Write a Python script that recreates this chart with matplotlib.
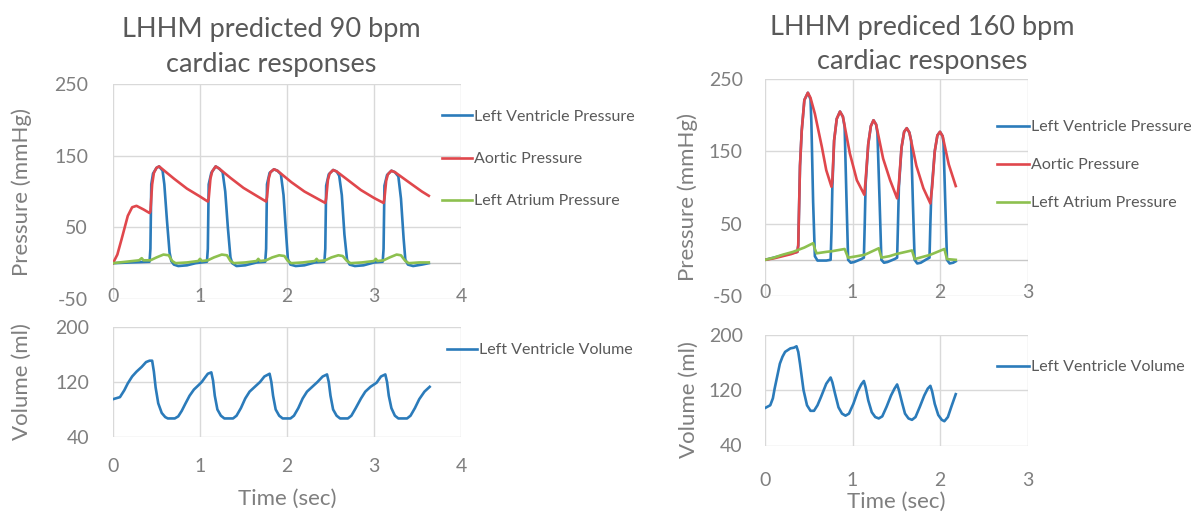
import numpy as np
import matplotlib
matplotlib.use('Agg')
import matplotlib.pyplot as plt

plt.rcParams['font.family'] = ['Lato', 'DejaVu Sans']
plt.rcParams['axes.unicode_minus'] = False

# ---------------- data ----------------
# 90 bpm : pressures (mmHg) vs time (s)
t_ao90 = [0, 0.05, 0.10, 0.17, 0.22, 0.27, 0.35, 0.42, 0.43, 0.45, 0.47, 0.50, 0.53, 0.58, 0.70, 0.85, 1.00, 1.09,
          1.10, 1.12, 1.14, 1.18, 1.22, 1.35, 1.50, 1.65, 1.76, 1.77, 1.79, 1.81, 1.85, 1.89, 2.05, 2.20, 2.35, 2.44,
          2.45, 2.47, 2.49, 2.53, 2.57, 2.70, 2.85, 3.00, 3.11, 3.12, 3.14, 3.16, 3.20, 3.24, 3.40, 3.55, 3.63]
p_ao90 = [0, 12, 34, 66, 78, 80, 75, 70, 72, 110, 126, 133, 135, 130, 118, 104, 93, 86,
          90, 118, 128, 135, 132, 119, 105, 94, 86, 92, 118, 127, 131, 129, 113, 100, 90, 84,
          90, 116, 125, 130, 128, 116, 102, 91, 84, 90, 115, 124, 129, 127, 113, 100, 94]

t_lv90 = [0, 0.2, 0.42, 0.43, 0.44, 0.46, 0.50, 0.53, 0.57, 0.59, 0.62, 0.65, 0.67, 0.70, 0.75, 0.85, 0.95, 1.08,
          1.09, 1.10, 1.13, 1.18, 1.22, 1.26, 1.29, 1.32, 1.35, 1.37, 1.42, 1.52, 1.65, 1.75,
          1.76, 1.77, 1.80, 1.85, 1.89, 1.93, 1.96, 1.99, 2.01, 2.04, 2.10, 2.20, 2.32, 2.43,
          2.44, 2.45, 2.48, 2.53, 2.57, 2.60, 2.63, 2.66, 2.69, 2.72, 2.78, 2.88, 3.00, 3.10,
          3.11, 3.12, 3.15, 3.20, 3.24, 3.28, 3.31, 3.34, 3.36, 3.39, 3.45, 3.55, 3.63]
p_lv90 = [0, 1, 2, 20, 110, 125, 133, 135, 129, 110, 60, 15, 3, -2, -4, -3, 0, 2,
          20, 110, 126, 135, 132, 127, 100, 50, 8, 0, -4, -3, 1, 2,
          20, 110, 126, 131, 129, 124, 95, 40, 6, -2, -4, -3, 1, 2,
          20, 108, 124, 130, 128, 122, 95, 40, 5, -2, -4, -3, 1, 2,
          20, 108, 123, 129, 127, 121, 90, 35, 5, -2, -4, -2, 0]

t_la90 = [0, 0.15, 0.30, 0.33, 0.35, 0.43, 0.50, 0.58, 0.64, 0.68, 0.72, 0.85, 0.98, 1.00, 1.02, 1.09, 1.16, 1.25,
          1.31, 1.35, 1.39, 1.52, 1.65, 1.67, 1.69, 1.76, 1.83, 1.91, 1.97, 2.01, 2.05, 2.18, 2.32, 2.34, 2.36,
          2.44, 2.51, 2.59, 2.64, 2.69, 2.73, 2.86, 3.00, 3.02, 3.04, 3.11, 3.18, 3.26, 3.31, 3.36, 3.40, 3.52, 3.63]
p_la90 = [0, 2, 4, 7, 4, 4, 8, 12, 11, 3, 0, 1, 3, 6, 3, 4, 8, 12,
          11, 3, 0, 1, 3, 6, 3, 4, 8, 11, 10, 3, 0, 1, 3, 6, 3,
          4, 8, 11, 10, 3, 0, 1, 3, 6, 3, 4, 8, 12, 11, 3, 0, 1, 1]

# 90 bpm : LV volume (ml)
t_vol90 = [0.00, 0.08, 0.13, 0.17, 0.22, 0.27, 0.33, 0.38, 0.42, 0.45, 0.47, 0.49, 0.52, 0.56, 0.60, 0.63, 0.71,
           0.75, 0.79, 0.83, 0.88, 0.93, 0.98, 1.02, 1.06, 1.09, 1.13, 1.15, 1.17, 1.20, 1.24, 1.28, 1.38,
           1.42, 1.47, 1.52, 1.57, 1.63, 1.69, 1.74, 1.80, 1.82, 1.84, 1.87, 1.91, 1.95, 2.04,
           2.08, 2.13, 2.18, 2.23, 2.29, 2.35, 2.41, 2.46, 2.48, 2.50, 2.53, 2.57, 2.61, 2.70,
           2.74, 2.79, 2.85, 2.90, 2.96, 3.03, 3.08, 3.13, 3.15, 3.17, 3.20, 3.24, 3.28, 3.38,
           3.42, 3.47, 3.52, 3.58, 3.64]
v_vol90 = [95, 98, 108, 118, 128, 135, 142, 149, 151, 151, 135, 112, 89, 75, 69, 67, 67,
           70, 78, 88, 100, 109, 115, 120, 127, 132, 134, 122, 100, 80, 71, 67, 67,
           71, 82, 96, 106, 113, 120, 128, 132, 120, 100, 80, 71, 67, 67,
           71, 82, 96, 106, 113, 120, 128, 131, 120, 100, 80, 71, 67, 67,
           71, 82, 96, 106, 113, 119, 128, 131, 120, 100, 82, 71, 67, 67,
           71, 82, 95, 106, 113]

# 160 bpm : pressures (mmHg)
t_ao160 = [0, 0.10, 0.20, 0.30, 0.37, 0.38, 0.40, 0.42, 0.45, 0.49, 0.52, 0.57, 0.65, 0.70, 0.76,
           0.77, 0.79, 0.82, 0.857, 0.89, 0.97, 1.05, 1.135, 1.15, 1.18, 1.21, 1.24, 1.27, 1.35, 1.43, 1.51,
           1.53, 1.56, 1.59, 1.62, 1.65, 1.73, 1.81, 1.89, 1.91, 1.94, 1.97, 2.00, 2.03, 2.10, 2.18]
p_ao160 = [0, 2, 5, 8, 11, 20, 130, 179, 221, 231, 224, 202, 156, 124, 101,
           110, 165, 195, 205, 198, 147, 110, 90, 110, 160, 185, 193, 187, 140, 110, 85,
           105, 155, 177, 182, 176, 130, 99, 78, 100, 150, 172, 177, 171, 132, 102]

t_lv160 = [0, 0.10, 0.20, 0.30, 0.37, 0.38, 0.40, 0.42, 0.45, 0.49, 0.52, 0.53, 0.55, 0.57, 0.60, 0.70, 0.75,
           0.76, 0.77, 0.79, 0.82, 0.857, 0.89, 0.91, 0.93, 0.95, 0.98, 1.02, 1.10, 1.13,
           1.14, 1.15, 1.18, 1.21, 1.24, 1.27, 1.285, 1.31, 1.33, 1.36, 1.40, 1.48, 1.51,
           1.52, 1.53, 1.56, 1.59, 1.62, 1.65, 1.67, 1.69, 1.71, 1.74, 1.78, 1.85, 1.88,
           1.89, 1.90, 1.94, 1.97, 2.00, 2.03, 2.04, 2.06, 2.08, 2.11, 2.15, 2.18]
p_lv160 = [0, 3, 6, 9, 11, 20, 130, 179, 221, 231, 222, 190, 80, 5, -1, -1, 0,
           40, 102, 165, 195, 205, 198, 184, 90, 0, -4, -3, 1, 3,
           50, 105, 160, 185, 193, 187, 175, 80, 0, -4, -3, 1, 3,
           50, 100, 155, 177, 182, 176, 165, 80, 0, -5, -4, 1, 3,
           50, 90, 150, 172, 177, 171, 162, 80, 0, -5, -4, -2]

t_la160 = [0, 0.10, 0.20, 0.32, 0.45, 0.55, 0.57, 0.59, 0.70, 0.77, 0.91, 0.95, 1.05, 1.14, 1.30, 1.33,
           1.42, 1.50, 1.68, 1.71, 1.80, 1.89, 2.05, 2.08, 2.18]
p_la160 = [0, 3, 7, 11, 17, 23, 15, 9, 11, 12, 15, 3, 5, 7, 16, 3,
           5, 8, 13, 1, 4, 7, 15, 1, 0]

# 160 bpm : LV volume (ml)
t_vol160 = [0.00, 0.06, 0.09, 0.11, 0.14, 0.17, 0.20, 0.23, 0.29, 0.33, 0.36, 0.38, 0.40, 0.44, 0.48, 0.52,
            0.56, 0.60, 0.64, 0.70, 0.75, 0.77, 0.80, 0.84, 0.88, 0.92, 0.96, 1.01, 1.06, 1.10, 1.13,
            1.15, 1.18, 1.22, 1.26, 1.30, 1.34, 1.39, 1.44, 1.48, 1.51, 1.53, 1.57, 1.60, 1.64, 1.68,
            1.72, 1.77, 1.82, 1.86, 1.89, 1.91, 1.94, 1.98, 2.02, 2.05, 2.09, 2.13, 2.18]
v_vol160 = [94, 98, 108, 122, 140, 158, 168, 175, 180, 181, 183, 175, 158, 120, 98, 90,
            90, 98, 110, 129, 138, 131, 115, 95, 86, 83, 86, 100, 118, 128, 133,
            124, 105, 88, 81, 79, 82, 96, 112, 122, 128, 120, 100, 86, 79, 77,
            81, 96, 112, 122, 126, 118, 100, 84, 77, 75, 81, 96, 114]

titles = [["LHHM predicted 90 bpm", "cardiac responses"],
          ["LHHM prediced 160 bpm", "cardiac responses"]]
names_p = ["Left Ventricle Pressure", "Aortic Pressure", "Left Atrium Pressure"]
name_v = "Left Ventricle Volume"

# ---------------- style ----------------
W, H = 1191, 515
c_blue = '#2b7bba'
c_red = '#e0474c'
c_green = '#8dc04f'
c_grid = '#d9d9d9'
c_tick = '#7f7f7f'
c_text = '#595959'
lw = 1.9
fs_tick = 14
fs_lab = 16
fs_leg = 11.5


def box(x0, x1, ytop, ybot):
    # pixel box -> figure fraction
    return [x0 / W, 1 - ybot / H, (x1 - x0) / W, (ybot - ytop) / H]


def deco(ax):
    for s in ax.spines.values():
        s.set_visible(False)
    ax.grid(True, color=c_grid, lw=1)
    ax.set_axisbelow(True)
    ax.tick_params(length=0, colors=c_tick, labelsize=fs_tick)


fig = plt.figure(figsize=(W / 100, H / 100), dpi=100)

# ---- left, 90 bpm ----
ax1 = fig.add_axes(box(113, 461, 84, 299))
deco(ax1)
ax1.axhline(0, color='#c8c8c8', lw=1, zorder=1)
ax1.plot(t_lv90, p_lv90, color=c_blue, lw=lw, label=names_p[0], zorder=2)
ax1.plot(t_ao90, p_ao90, color=c_red, lw=lw, label=names_p[1], zorder=3)
ax1.plot(t_la90, p_la90, color=c_green, lw=lw, label=names_p[2], zorder=4)
ax1.set_xlim(0, 4)
ax1.set_ylim(-50, 250)
ax1.set_xticks([0, 1, 2, 3, 4])
ax1.set_yticks([-50, 50, 150, 250])
ax1.tick_params(axis='x', pad=-8)
ax1.tick_params(axis='y', pad=18)
ax1.set_ylabel("Pressure (mmHg)", fontsize=fs_lab, color=c_tick)
ax1.yaxis.set_label_coords(-0.233, 0.5)
ax1.legend(loc='center left', bbox_to_anchor=(0.945, 0.651), frameon=False, fontsize=fs_leg,
           labelcolor=c_text, handlelength=1.9, handletextpad=0.1, labelspacing=1.75,
           borderpad=0, borderaxespad=0)

ax2 = fig.add_axes(box(113, 461, 327, 437))
deco(ax2)
ax2.plot(t_vol90, v_vol90, color=c_blue, lw=lw, label=name_v)
ax2.set_xlim(0, 4)
ax2.set_ylim(40, 200)
ax2.set_xticks([0, 1, 2, 3, 4])
ax2.set_yticks([40, 120, 200])
ax2.tick_params(axis='x', pad=15)
ax2.tick_params(axis='y', pad=17)
ax2.set_ylabel("Volume (ml)", fontsize=fs_lab, color=c_tick)
ax2.yaxis.set_label_coords(-0.233, 0.5)
ax2.set_xlabel("Time (sec)", fontsize=fs_lab, color=c_tick, labelpad=10)
ax2.legend(loc='center left', bbox_to_anchor=(0.96, 0.79), frameon=False, fontsize=fs_leg,
           labelcolor=c_text, handlelength=1.9, handletextpad=0.1, borderpad=0, borderaxespad=0)

# ---- right, 160 bpm ----
ax3 = fig.add_axes(box(765, 1027.5, 79, 296))
deco(ax3)
ax3.axhline(0, color='#c8c8c8', lw=1, zorder=1)
ax3.plot(t_lv160, p_lv160, color=c_blue, lw=lw, label=names_p[0], zorder=2)
ax3.plot(t_ao160, p_ao160, color=c_red, lw=lw, label=names_p[1], zorder=3)
ax3.plot(t_la160, p_la160, color=c_green, lw=lw, label=names_p[2], zorder=4)
ax3.set_xlim(0, 3)
ax3.set_ylim(-50, 250)
ax3.set_xticks([0, 1, 2, 3])
ax3.set_yticks([-50, 50, 150, 250])
ax3.tick_params(axis='x', pad=-9)
ax3.tick_params(axis='y', pad=16)
ax3.set_ylabel("Pressure (mmHg)", fontsize=fs_lab, color=c_tick)
ax3.yaxis.set_label_coords(-0.255, 0.456)
ax3.legend(loc='center left', bbox_to_anchor=(0.884, 0.603), frameon=False, fontsize=fs_leg,
           labelcolor=c_text, handlelength=2.0, handletextpad=0.1, labelspacing=1.5,
           borderpad=0, borderaxespad=0)

ax4 = fig.add_axes(box(765, 1027.5, 334.5, 445.5))
deco(ax4)
ax4.plot(t_vol160, v_vol160, color=c_blue, lw=lw, label=name_v)
ax4.set_xlim(0, 3)
ax4.set_ylim(40, 200)
ax4.set_xticks([0, 1, 2, 3])
ax4.set_yticks([40, 120, 200])
ax4.tick_params(axis='x', pad=19)
ax4.tick_params(axis='y', pad=16)
ax4.set_ylabel("Volume (ml)", fontsize=fs_lab, color=c_tick)
ax4.yaxis.set_label_coords(-0.251, 0.41)
ax4.set_xlabel("Time (sec)", fontsize=fs_lab, color=c_tick, labelpad=2)
ax4.legend(loc='center left', bbox_to_anchor=(0.884, 0.707), frameon=False, fontsize=fs_leg,
           labelcolor=c_text, handlelength=2.0, handletextpad=0.1, borderpad=0, borderaxespad=0)

# titles
for cx, ys, tt in [(271, (30, 65), titles[0]), (922, (28, 62), titles[1])]:
    for y, s in zip(ys, tt):
        fig.text(cx / W, 1 - y / H, s, ha='center', va='center', fontsize=19.5, color=c_text)

plt.savefig('out.png', dpi=100)
